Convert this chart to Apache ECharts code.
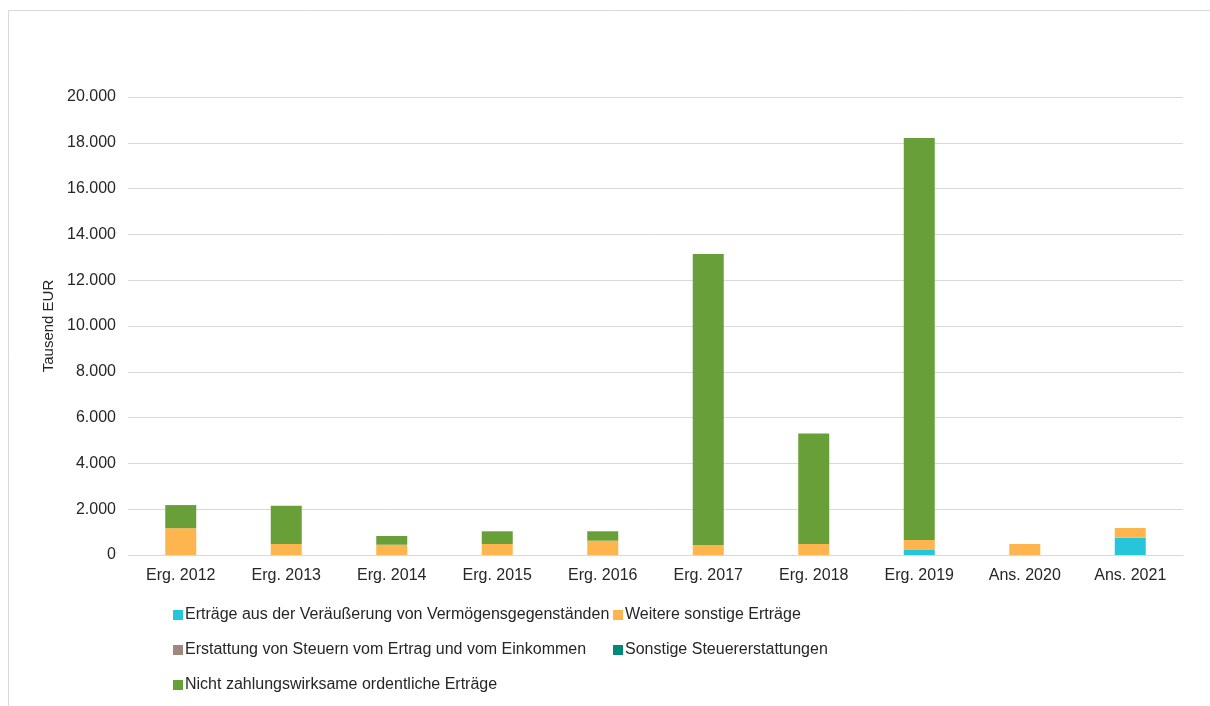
<!DOCTYPE html>
<html>
<head>
<meta charset="utf-8">
<script src="https://cdn.jsdelivr.net/npm/echarts@6/dist/echarts.min.js"></script>
<style>
html,body{margin:0;padding:0;background:#fff;}
#chart{width:1210px;height:706px;}
</style>
</head>
<body>
<div id="chart"></div>
<script>
const categories = ['Erg. 2012','Erg. 2013','Erg. 2014','Erg. 2015','Erg. 2016','Erg. 2017','Erg. 2018','Erg. 2019','Ans. 2020','Ans. 2021'];
const veraeusserung = [0,0,0,0,0,0,0,220,0,760];
const weitereSonstige = [1170,480,450,480,625,437,480,435,480,420];
const erstattungSteuern = [0,0,0,0,0,0,0,0,0,0];
const sonstigeSteuer = [0,0,0,0,0,0,0,0,0,0];
const nichtZahlungswirksam = [1010,1670,380,555,410,12710,4830,17550,0,0];
const seriesNames = ['Erträge aus der Veräußerung von Vermögensgegenständen','Weitere sonstige Erträge','Erstattung von Steuern vom Ertrag und vom Einkommen','Sonstige Steuererstattungen','Nicht zahlungswirksame ordentliche Erträge'];
const yTicks = {min:0,max:20000,interval:2000};

const colors = ['#26C6DA','#FFB54D','#A1887F','#00897B','#689F38'];
const dataSets = [veraeusserung, weitereSonstige, erstattungSteuern, sonstigeSteuer, nichtZahlungswirksam];
const font = 'Liberation Sans, Arial, sans-serif';
const txt = '#262626';

const chart = echarts.init(document.getElementById('chart'), null, {renderer:'canvas'});
const fmt = v => v.toLocaleString('de-DE');
chart.setOption({
  animation:false,
  backgroundColor:'#fff',
  graphic:[{type:'rect',shape:{x:8.5,y:10.5,width:1230,height:720},style:{fill:'none',stroke:'#d9d9d9',lineWidth:1},silent:true}],
  grid:{left:128,right:27,top:97,bottom:151},
  xAxis:{type:'category',data:categories,
    axisLine:{lineStyle:{color:'#d9d9d9',width:1}},axisTick:{show:false},
    axisLabel:{color:txt,fontSize:16,fontFamily:font,margin:13}},
  yAxis:{type:'value',min:yTicks.min,max:yTicks.max,interval:yTicks.interval,
    name:'Tausend EUR',nameLocation:'middle',nameGap:61,nameRotate:90,
    nameTextStyle:{color:txt,fontSize:15,fontFamily:font},
    axisLine:{show:false},axisTick:{show:false},
    axisLabel:{color:txt,fontSize:16,fontFamily:font,margin:12,formatter:fmt},
    splitLine:{lineStyle:{color:'#d9d9d9',width:1}}},
  legend:[
    {data:[seriesNames[0],seriesNames[2],seriesNames[4]],orient:'vertical',left:168,top:602,itemGap:19,itemWidth:10,itemHeight:10,icon:'rect',
     textStyle:{color:txt,fontSize:16,fontFamily:font,padding:[0,0,0,-3]}},
    {data:[seriesNames[1],seriesNames[3]],orient:'vertical',left:608,top:602,itemGap:19,itemWidth:10,itemHeight:10,icon:'rect',
     textStyle:{color:txt,fontSize:16,fontFamily:font,padding:[0,0,0,-3]}}
  ],
  series: dataSets.map((d,i)=>({name:seriesNames[i],type:'bar',stack:'total',data:d,barWidth:31,
    itemStyle:{color:colors[i]}}))
});
</script>
</body>
</html>
